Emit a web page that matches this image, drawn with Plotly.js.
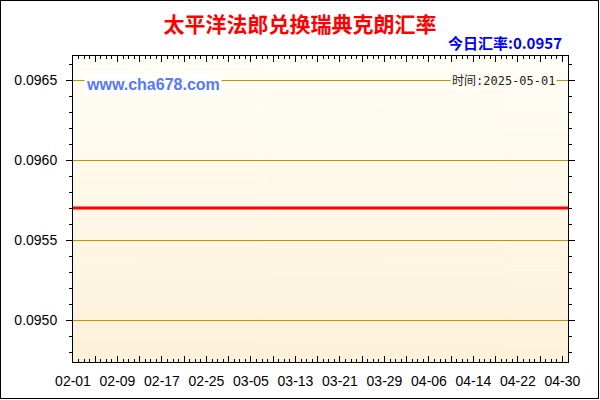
<!DOCTYPE html>
<html>
<head>
<meta charset="utf-8">
<script src="https://cdn.plot.ly/plotly-3.0.1.min.js"></script>
<style>
  body { margin: 0; background: #fff; }
  #wrap { position: relative; width: 600px; height: 400px; }
  #frame { position: absolute; left: 0; top: 0; width: 599px; height: 399px;
           box-sizing: border-box; border: 1px solid #000; pointer-events: none; }
</style>
</head>
<body>
<div id="wrap">
  <div id="chart"></div>
  <div id="frame"></div>
</div>
<script>
// rate series (flat over the period)
const rateDates = ['2025-02-01', '2025-02-09', '2025-02-17', '2025-02-25', '2025-03-05',
                   '2025-03-13', '2025-03-21', '2025-03-29', '2025-04-06', '2025-04-14',
                   '2025-04-22', '2025-04-30', '2025-05-01'];
const rates = [0.0957, 0.0957, 0.0957, 0.0957, 0.0957, 0.0957, 0.0957,
               0.0957, 0.0957, 0.0957, 0.0957, 0.0957, 0.0957];

// x ticks every 4 days, labels every 8
const tickDates = ['2025-02-01', '2025-02-05', '2025-02-09', '2025-02-13', '2025-02-17',
                   '2025-02-21', '2025-02-25', '2025-03-01', '2025-03-05', '2025-03-09',
                   '2025-03-13', '2025-03-17', '2025-03-21', '2025-03-25', '2025-03-29',
                   '2025-04-02', '2025-04-06', '2025-04-10', '2025-04-14', '2025-04-18',
                   '2025-04-22', '2025-04-26', '2025-04-30'];
const tickLabels = ['02-01', '', '02-09', '', '02-17', '', '02-25', '', '03-05', '',
                    '03-13', '', '03-21', '', '03-29', '', '04-06', '', '04-14', '',
                    '04-22', '', '04-30'];

const yTicks = [0.0950, 0.0955, 0.0960, 0.0965];

const titleText = '太平洋法郎兑换瑞典克朗汇率';
const todayText = '今日汇率:0.0957';
const siteText = 'www.cha678.com';
const timeText = '时间:2025-05-01';

// gradient for the plot area background
const makeGradient = () => {
    const c = document.createElement('canvas');
    c.width = 4; c.height = 300;
    const g = c.getContext('2d');
    const grad = g.createLinearGradient(0, 0, 0, 300);
    grad.addColorStop(0, '#FFFEF6');
    grad.addColorStop(1, '#FDF1D9');
    g.fillStyle = grad;
    g.fillRect(0, 0, 4, 300);
    return c.toDataURL();
};

const tickFont = {family: 'Liberation Sans, Arial, sans-serif', size: 14, color: '#000'};

const trace = {
    x: rateDates,
    y: rates,
    type: 'scatter',
    mode: 'lines',
    line: {color: '#FF0000', width: 3},
    hoverinfo: 'skip'
};

const layout = {
    width: 600,
    height: 400,
    margin: {l: 73, r: 32, t: 56, b: 38},
    paper_bgcolor: '#FFFFFF',
    plot_bgcolor: 'rgba(0,0,0,0)',
    showlegend: false,
    title: {
        text: '<b>' + titleText + '</b>',
        font: {family: 'Noto Sans CJK SC, sans-serif', size: 21, color: '#FF0000'},
        xref: 'container', x: 0.5, xanchor: 'center',
        yref: 'container', y: 1 - 25 / 400, yanchor: 'middle'
    },
    xaxis: {
        type: 'date',
        range: ['2025-02-01', '2025-05-01'],
        tickmode: 'array',
        tickvals: tickDates,
        ticktext: tickLabels,
        ticks: 'inside',
        ticklen: 6,
        tickcolor: '#000',
        tickwidth: 1,
        ticklabelstandoff: 6,
        tickfont: tickFont,
        showline: true,
        linecolor: '#000',
        linewidth: 1,
        mirror: 'ticks',
        showgrid: false,
        zeroline: false,
        minor: {
            tick0: '2025-02-01',
            dtick: 86400000,
            ticks: 'inside',
            ticklen: 3,
            tickcolor: '#000',
            showgrid: false
        }
    },
    yaxis: {
        range: [0.0947375, 0.09665],
        tickmode: 'array',
        tickvals: yTicks,
        tickformat: '.4f',
        ticks: 'outside',
        ticklen: 6,
        tickcolor: '#000',
        ticklabelstandoff: 6,
        tickfont: tickFont,
        showline: true,
        linecolor: '#000',
        linewidth: 1,
        mirror: 'ticks',
        showgrid: true,
        gridcolor: '#C49008',
        gridwidth: 1,
        zeroline: false,
        minor: {
            tick0: 0.0950,
            dtick: 0.0001,
            ticks: 'outside',
            ticklen: 3,
            tickcolor: '#000',
            showgrid: false
        }
    },
    images: [{
        source: makeGradient(),
        xref: 'paper', yref: 'paper',
        x: 0, y: 1, sizex: 1, sizey: 1,
        xanchor: 'left', yanchor: 'top',
        sizing: 'stretch',
        layer: 'below'
    }],
    annotations: [
        {
            text: '<b>' + todayText + '</b>',
            xref: 'paper', yref: 'paper',
            x: 0.992, y: (362 - 42.5) / 306,
            xanchor: 'right', yanchor: 'middle',
            showarrow: false,
            font: {family: 'Noto Sans CJK SC, sans-serif', size: 15, color: '#0000FF'}
        },
        {
            text: '<b>' + siteText + '</b>',
            xref: 'paper', yref: 'paper',
            x: 11 / 495, y: (362 - 84) / 306,
            xanchor: 'left', yanchor: 'middle',
            showarrow: false,
            bgcolor: '#FFFFFF',
            font: {family: 'Liberation Sans, Arial, sans-serif', size: 16, color: '#5577FF'}
        },
        {
            text: timeText,
            xref: 'paper', yref: 'paper',
            x: (557 - 73) / 495, y: (362 - 81) / 306,
            xanchor: 'right', yanchor: 'middle',
            showarrow: false,
            bgcolor: '#FFFEF4',
            font: {family: 'DejaVu Sans Mono, Noto Sans CJK SC, monospace', size: 12, color: '#222'}
        }
    ]
};

Plotly.newPlot('chart', [trace], layout, {displayModeBar: false, staticPlot: true});
</script>
</body>
</html>
